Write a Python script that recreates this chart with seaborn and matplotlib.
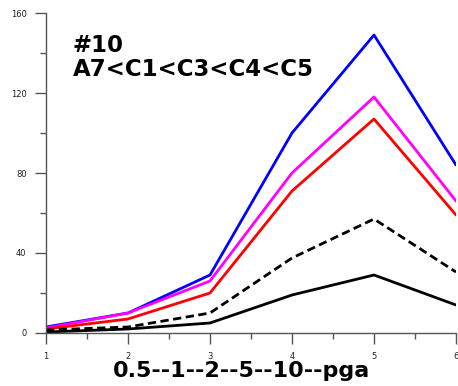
import matplotlib
matplotlib.use("Agg")
import matplotlib.pyplot as plt
import seaborn as sns
import pandas as pd
from matplotlib.ticker import MultipleLocator

x_vals = [1, 2, 3, 4, 5, 6]
c5_blue = [3, 10, 29, 100, 149, 84]
c4_magenta = [2.5, 10, 26, 80, 118, 66]
c3_red = [2, 7, 20, 71, 107, 59]
c1_dashed = [1.5, 3, 10, 37.5, 57, 30.5]
a7_black = [0.5, 2, 5, 19, 29, 14]

series_names = ["C5", "C4", "C3", "C1", "A7"]
series_vals = [c5_blue, c4_magenta, c3_red, c1_dashed, a7_black]
colors = {"C5": "#0000ff", "C4": "#ff00ff", "C3": "#ff0000", "C1": "#000000", "A7": "#000000"}
dashes = {"C5": "", "C4": "", "C3": "", "C1": (3, 1.6), "A7": ""}

rows = []
for name, vals in zip(series_names, series_vals):
    for xv, yv in zip(x_vals, vals):
        rows.append({"x": xv, "y": yv, "s": name})
df = pd.DataFrame(rows)

sns.set_style("white")
plt.rcParams["text.color"] = "black"
plt.rcParams["axes.labelcolor"] = "black"
fig = plt.figure(figsize=(4.58, 3.86), dpi=100)
ax = fig.add_axes([46 / 458, 53 / 386, 410 / 458, 320 / 386])

sns.lineplot(data=df, x="x", y="y", hue="s", style="s", palette=colors,
             dashes=dashes, linewidth=2.0, legend=False, ax=ax, sort=False)

ax.set_xlim(1, 6)
ax.set_ylim(0, 160)
ax.xaxis.set_major_locator(MultipleLocator(1))
ax.xaxis.set_minor_locator(MultipleLocator(0.5))
ax.yaxis.set_major_locator(MultipleLocator(40))
ax.yaxis.set_minor_locator(MultipleLocator(20))
ax.tick_params(which="major", direction="out", length=8, width=1, color="#555555",
               labelsize=6, labelcolor="#222222", bottom=True, left=True, pad=6)
ax.tick_params(which="minor", direction="out", length=4, width=1, color="#555555",
               bottom=True, left=True)
for s in ["top", "right"]:
    ax.spines[s].set_visible(False)
for s in ["left", "bottom"]:
    ax.spines[s].set_color("#555555")
    ax.spines[s].set_linewidth(1)

ax.set_ylabel("")
ax.set_xlabel("")
fig.text(242 / 458, 1 - 371 / 386, "0.5--1--2--5--10--pga", fontsize=16,
         fontweight="bold", ha="center", va="center", color="black")
fig.text(73 / 458, 1 - 46 / 386, "#10", fontsize=16.5,
         fontweight="bold", va="center", ha="left", color="black")
fig.text(73 / 458, 1 - 70 / 386, "A7<C1<C3<C4<C5",
         fontsize=16.5, fontweight="bold", va="center", ha="left", color="black")

fig.savefig("out.png", dpi=100)
